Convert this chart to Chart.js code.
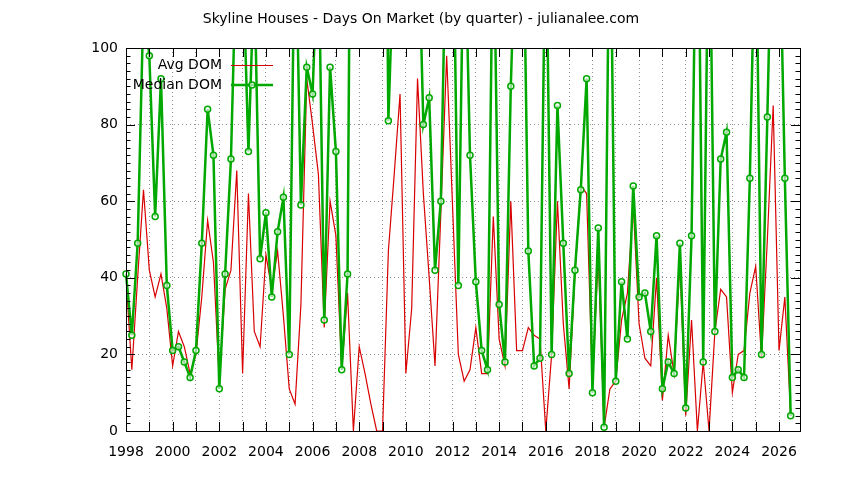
<!DOCTYPE html>
<html>
<head>
<meta charset="utf-8">
<script src="https://cdn.jsdelivr.net/npm/chart.js@4.4.1/dist/chart.umd.min.js"></script>
<style>
  html, body { margin: 0; padding: 0; background: #fff; }
  #wrap { width: 844px; height: 480px; }
</style>
</head>
<body>
<div id="wrap"><canvas id="domChart" width="844" height="480"></canvas></div>
<script>
const TITLE = 'Skyline Houses - Days On Market (by quarter) - julianalee.com'
const START_YEAR = 1998
// one value per quarter, 1998 Q1 .. 2026 Q3; values above 100 run off the top of the plot
const AVG_DOM = [
  40, 16, 40, 63, 42, 35, 41, 32, 17, 26, 22, 15, 20, 35, 55, 44,
  13, 37, 42, 68, 15, 62, 26, 22, 46, 37, 47, 30, 11, 7, 33, 92,
  80, 67, 27, 60, 51, 16, 36, 0, 22, 15, 7, 0, 0, 47, 67, 88,
  15, 32, 92, 62, 40, 17, 57, 98, 59, 20, 13, 16, 27, 15, 15, 56,
  24, 17, 60, 21, 21, 27, 25, 24, 0, 20, 60, 28, 11, 41, 64, 62,
  12, 46, 1, 11, 13, 29, 36, 59, 28, 19, 17, 40, 8, 25, 15, 44,
  4, 29, 0, 18, 0, 26, 37, 35, 10, 20, 21, 36, 43, 19, 50, 85,
  21, 35, 4
]
const MEDIAN_DOM = [
  41, 25, 49, 112, 98, 56, 92, 38, 21, 22, 18, 14, 21, 49, 84, 72,
  11, 41, 71, 130, 125, 73, 120, 45, 57, 35, 52, 61, 20, 140, 59, 95,
  88, 130, 29, 95, 73, 16, 41, 260, 220, 200, 180, 210, 250, 81, 128, 160,
  170, 150, 140, 80, 87, 42, 60, 140, 150, 38, 140, 72, 39, 21, 16, 140,
  33, 18, 90, 140, 150, 47, 17, 19, 140, 20, 85, 49, 15, 42, 63, 92,
  10, 53, 1, 150, 13, 39, 24, 64, 35, 36, 26, 51, 11, 18, 15, 49,
  6, 51, 160, 18, 150, 26, 71, 78, 14, 16, 14, 66, 140, 20, 82, 150,
  140, 66, 4
]
const QUARTERS = AVG_DOM.map((v, i) => START_YEAR + i / 4)
const Y_TICKS = [0, 20, 40, 60, 80, 100]

const FONT = 'DejaVu Sans'
const RED = '#d80000'
const GREEN = '#00a800'

// gnuplot look: frame, inward ticks on all four sides, key and title
const gnuplotFrame = {
  id: 'gnuplotFrame',
  afterDraw(chart) {
    const ctx = chart.ctx
    const a = chart.chartArea
    const xs = chart.scales.x
    const ys = chart.scales.y
    ctx.save()
    ctx.strokeStyle = '#000'
    ctx.lineWidth = 1
    ctx.beginPath()
    for (let v = 0; v <= 100; v += 2) {
      const py = Math.round(ys.getPixelForValue(v)) + 0.5
      const len = v % 20 === 0 ? 9 : 4.5
      ctx.moveTo(a.left, py); ctx.lineTo(a.left + len, py)
      ctx.moveTo(a.right, py); ctx.lineTo(a.right - len, py)
    }
    for (let yr = START_YEAR; yr <= 2026; yr++) {
      const px = Math.round(xs.getPixelForValue(yr)) + 0.5
      ctx.moveTo(px, a.bottom); ctx.lineTo(px, a.bottom - 9)
      ctx.moveTo(px, a.top); ctx.lineTo(px, a.top + 9)
    }
    ctx.stroke()
    ctx.strokeRect(a.left + 0.5, a.top + 0.5, a.right - a.left, a.bottom - a.top)

    // title
    ctx.fillStyle = '#000'
    ctx.font = '14px "' + FONT + '"'
    ctx.textAlign = 'center'
    ctx.textBaseline = 'middle'
    ctx.fillText(TITLE, 421, 19)

    // key
    ctx.textAlign = 'right'
    ctx.fillText('Avg DOM', 222, 65)
    ctx.fillText('Median DOM', 222, 85)
    ctx.strokeStyle = RED
    ctx.lineWidth = 1.2
    ctx.beginPath(); ctx.moveTo(231, 65.5); ctx.lineTo(273, 65.5); ctx.stroke()
    ctx.strokeStyle = GREEN
    ctx.lineWidth = 2.5
    ctx.beginPath(); ctx.moveTo(231, 85); ctx.lineTo(273, 85); ctx.stroke()
    ctx.lineWidth = 1.5
    ctx.fillStyle = 'rgba(255,255,255,0.6)'
    ctx.beginPath(); ctx.arc(252, 85, 3, 0, Math.PI * 2); ctx.fill(); ctx.stroke()
    ctx.restore()
  }
}

const domData = {
  labels: QUARTERS,
  datasets: [{
    label: 'Avg DOM',
    data: AVG_DOM,
    borderColor: RED,
    borderWidth: 1.2,
    pointRadius: 0,
    order: 2
  }, {
    label: 'Median DOM',
    data: MEDIAN_DOM,
    borderColor: GREEN,
    borderWidth: 2.5,
    pointRadius: 3,
    pointBorderWidth: 1.5,
    pointBorderColor: GREEN,
    pointBackgroundColor: 'rgba(255,255,255,0.6)',
    clip: { left: 5, right: 5, top: 0, bottom: 5 },
    order: 1
  }]
}

const domOptions = {
  responsive: false,
  animation: false,
  devicePixelRatio: 1,
  layout: { padding: { left: 0, top: 48, right: 44, bottom: 0 } },
  elements: { line: { tension: 0 } },
  scales: {
    x: {
      type: 'linear',
      min: START_YEAR,
      max: 2026.9,
      afterFit: scale => { scale.height = 49 },
      border: { display: false, dash: [1, 3] },
      grid: { color: '#909090', drawTicks: false },
      ticks: {
        stepSize: 1,
        includeBounds: false,
        autoSkip: false,
        maxRotation: 0,
        padding: 13,
        color: '#000',
        font: { family: FONT, size: 14 },
        callback: value => (value % 2 === 0 ? String(value) : '')
      }
    },
    y: {
      min: 0,
      max: 100,
      afterFit: scale => { scale.width = 126 },
      afterBuildTicks: scale => { scale.ticks = Y_TICKS.map(v => ({ value: v })) },
      border: { display: false, dash: [1, 3] },
      grid: { color: '#909090', drawTicks: false },
      ticks: {
        padding: 8,
        color: '#000',
        font: { family: FONT, size: 14 }
      }
    }
  },
  plugins: {
    legend: { display: false },
    title: { display: false },
    tooltip: { enabled: false }
  }
}

const domChart = new Chart(document.getElementById('domChart'), {
  type: 'line',
  data: domData,
  options: domOptions,
  plugins: [gnuplotFrame]
})
</script>
</body>
</html>
